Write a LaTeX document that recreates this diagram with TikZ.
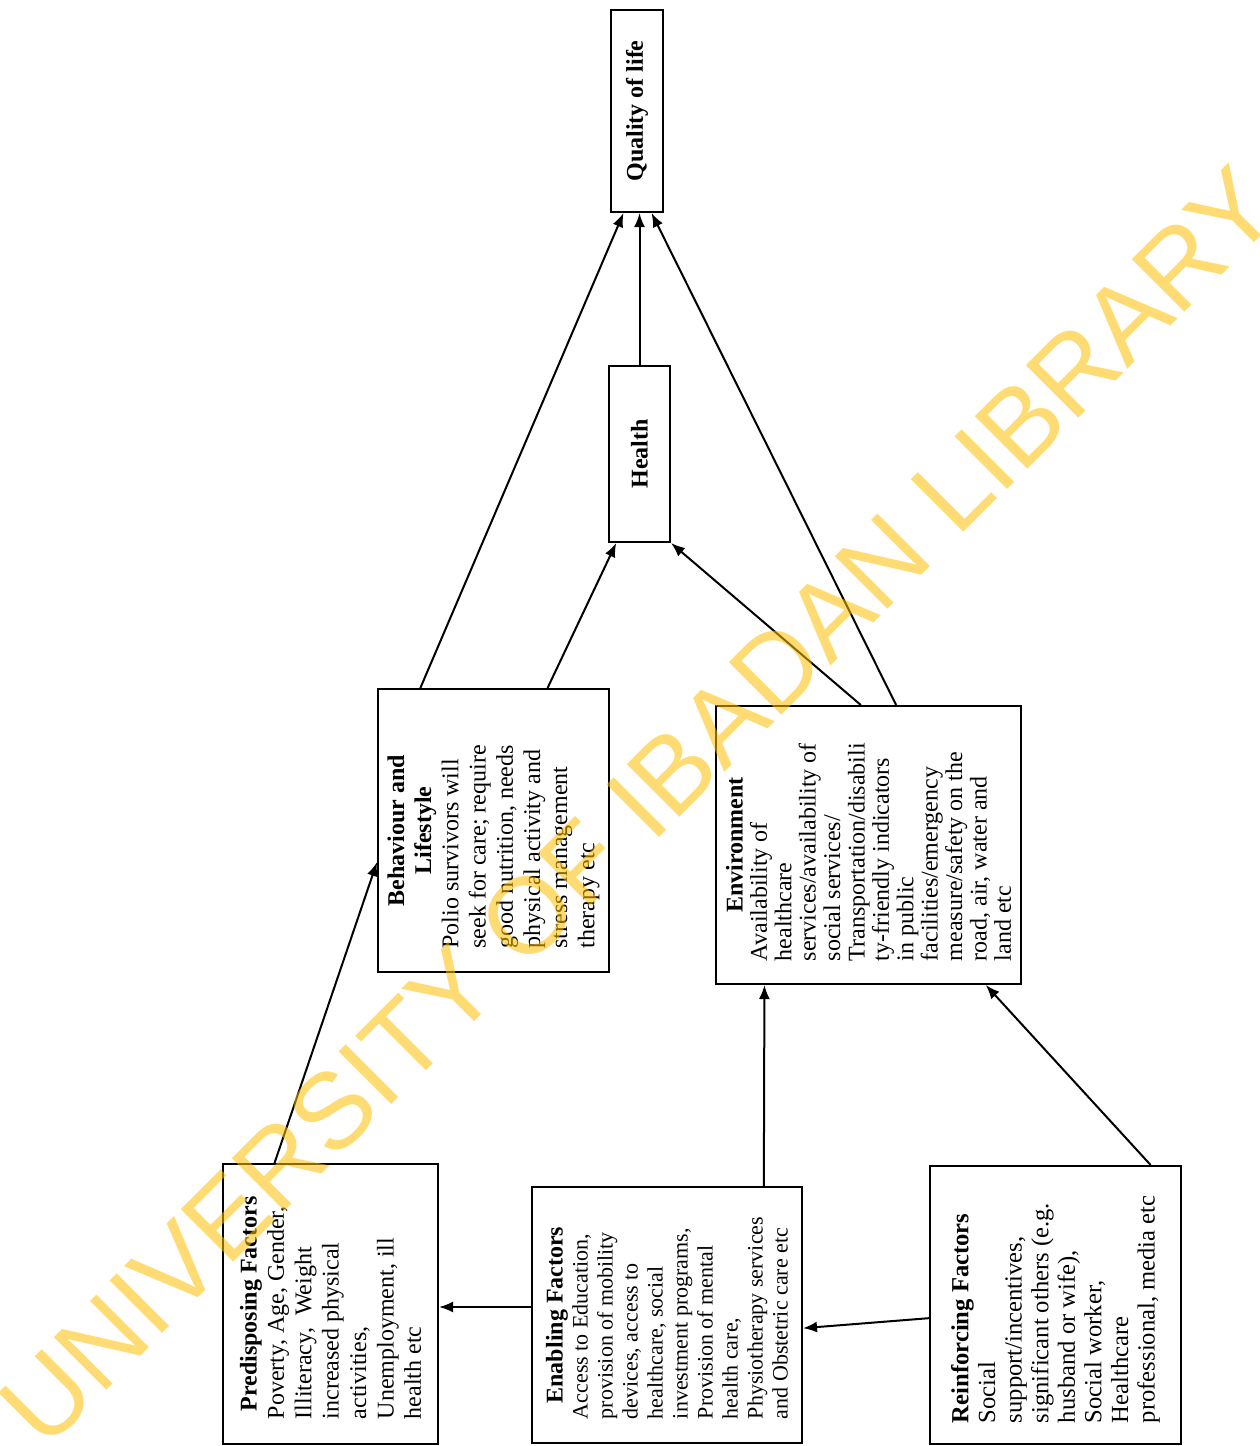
\documentclass[tikz,border=0pt]{standalone}
\usepackage{fontspec}
\setmainfont{Liberation Serif}
\newfontfamily\wmfont{Liberation Sans}
\usetikzlibrary{arrows.meta,calc}
\definecolor{wmyellow}{HTML}{FFC000}
\newcommand\rottext[4]{\rotatebox{90}{\begin{minipage}{#1}\fontsize{#2}{#3}\selectfont #4\end{minipage}}}
\begin{document}
\begin{tikzpicture}[x=0.5pt,y=-0.5pt,
  box/.style={draw, line width=1pt, inner sep=0pt, rectangle},
  arr/.style={-{Latex[length=7pt,width=5.5pt]}, line width=1pt},
]
\useasboundingbox[fill=white] (0,0) rectangle (1259,1446);

% boxes
\node[box, minimum width=26pt, minimum height=101pt] (qol) at (637,111)
  {\rotatebox{90}{\fontsize{12}{14}\selectfont\textbf{Quality of life}}};
\node[box, minimum width=30.5pt, minimum height=88pt] (hea) at (639.5,454)
  {\rotatebox{90}{\fontsize{12}{14}\selectfont\textbf{Health}}};
\node[box, minimum width=115.5pt, minimum height=141.5pt] (beh) at (493.5,830.5)
  {\rottext{118pt}{12}{13.6}{{\centering\textbf{Behaviour and\\ Lifestyle}\par}\raggedright
   Polio survivors will\\ seek for care; require\\ good nutrition, needs\\ physical activity and\\ stress management\\ therapy etc}};
\node[box, minimum width=152.5pt, minimum height=139pt] (env) at (868.5,845)
  {\rottext{116pt}{12}{12.2}{{\centering\textbf{Environment}\par}\raggedright
   Availability of\\ healthcare\\ services/availability of\\ social services/\\ Transportation/disabili\\ ty-friendly indicators\\ in public\\ facilities/emergency\\ measure/safety on the\\ road, air, water and\\ land etc}};
\node[box, minimum width=107.5pt, minimum height=140pt] (pre) at (330.5,1304)
  {\rottext{115pt}{12}{13.7}{{\centering\textbf{Predisposing Factors}\par}\raggedright
   Poverty, Age, Gender,\\ Illiteracy,\ \ Weight\\ increased physical\\ activities,\\ Unemployment, ill\\ health etc}};
\node[box, minimum width=135pt, minimum height=128pt] (ena) at (667,1315)
  {\rottext{104pt}{11}{12.5}{{\centering\textbf{\fontsize{12}{12.5}\selectfont Enabling Factors}\par}\raggedright
   Access to Education,\\ provision of mobility\\ devices, access to\\ healthcare, social\\ investment programs,\\ Provision of mental\\ health care,\\ Physiotherapy services\\ and Obstetric care etc}};
\node[box, minimum width=125.5pt, minimum height=139pt] (rei) at (1055.5,1305)
  {\rottext{118pt}{12.3}{13.3}{\raggedright\textbf{Reinforcing Factors}\\
   Social\\ support/incentives,\\ significant others (e.g.\\ husband or wife),\\ Social worker,\\ Healthcare\\ professional, media etc}};

% connectors
\draw[arr] ($(pre.north west)!0.242!(pre.north east)$) -- ($(beh.north west)!0.611!(beh.south west)$);
\coordinate (e1) at ($(ena.north west)!0.469!(ena.south west)$);
\draw[arr] (e1) -- (e1 -| pre.east);
\draw[arr] ($(rei.north west)!0.547!(rei.south west)$) -- ($(ena.north east)!0.551!(ena.south east)$);
\draw[arr] ($(ena.north west)!0.856!(ena.north east)$) -- ($(env.south west)!0.161!(env.south east)$);
\draw[arr] ($(rei.north west)!0.876!(rei.north east)$) -- ($(env.south west)!0.882!(env.south east)$);
\draw[arr] ($(beh.north west)!0.186!(beh.north east)$) -- ($(qol.south west)!0.25!(qol.south east)$);
\draw[arr] ($(beh.north west)!0.732!(beh.north east)$) -- ($(hea.south west)!0.13!(hea.south east)$);
\draw[arr] ($(env.north west)!0.475!(env.north east)$) -- (hea.south east);
\draw[arr] ($(env.north west)!0.59!(env.north east)$) -- ($(qol.south west)!0.77!(qol.south east)$);
\draw[arr] (hea.north) -- (hea.north |- qol.south);

% watermark
\node[rotate=45, text=wmyellow, text opacity=0.55, inner sep=0pt,
      font=\wmfont\fontsize{54}{54}\selectfont] (wm) at (638,806) {UNIVERSITY OF IBADAN LIBRARY};
\end{tikzpicture}
\end{document}
